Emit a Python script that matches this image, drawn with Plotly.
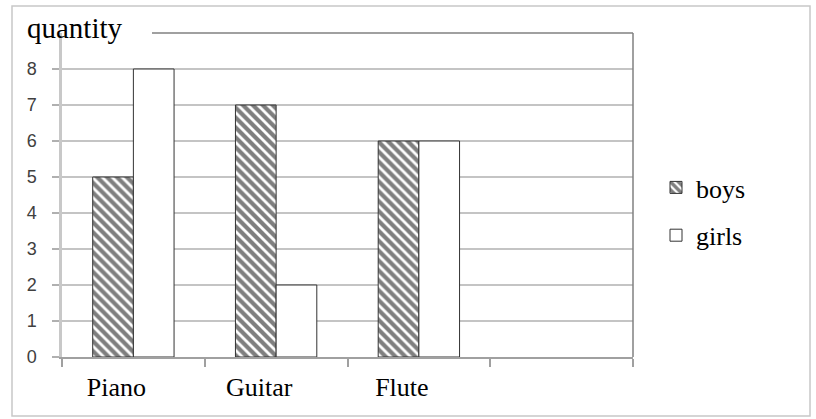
import plotly.graph_objects as go

categories = ["Piano", "Guitar", "Flute", " "]
boys = [5, 7, 6, None]
girls = [8, 2, 6, None]
y_ticks = [0, 1, 2, 3, 4, 5, 6, 7, 8]

W, H = 816, 419
L, R, T, B = 62, 633, 33, 357

def px_x(x):
    return (x - L) / (R - L)

def px_y(y):
    return (B - y) / (B - T)

serif = "Liberation Serif, Times New Roman, serif"
sans = "Liberation Sans, Arial, sans-serif"

fig = go.Figure()
fig.add_trace(go.Bar(
    x=categories, y=boys, name="boys", legendgroup="b",
    marker=dict(color="white", line=dict(color="#333333", width=1),
                pattern=dict(shape="\\", size=7, solidity=0.6, fgcolor="black", bgcolor="white")),
))
fig.add_trace(go.Bar(
    x=categories, y=girls, name="girls", legendgroup="g",
    marker=dict(color="white", line=dict(color="#333333", width=1)),
))

shapes = [
    dict(type="rect", xref="paper", yref="paper", x0=px_x(12), x1=px_x(810), y0=px_y(416), y1=px_y(6),
         line=dict(color="#c8c8c8", width=1.5), layer="below"),
    dict(type="line", xref="paper", yref="paper", x0=px_x(152), x1=1, y0=1, y1=1,
         line=dict(color="#808080", width=1.5)),
    dict(type="line", xref="paper", yref="paper", x0=1, x1=1, y0=0, y1=1,
         line=dict(color="#808080", width=1.5)),
]

fig.update_layout(
    width=W, height=H,
    margin=dict(l=L, r=W - R, t=T, b=H - B, autoexpand=False),
    paper_bgcolor="white", plot_bgcolor="white",
    barmode="group", bargap=0.43, bargroupgap=0,
    showlegend=True,
    legend=dict(x=px_x(656), y=px_y(164), xanchor="left", yanchor="top",
                font=dict(family=serif, size=26, color="black"),
                tracegroupgap=11, bgcolor="rgba(0,0,0,0)"),
    shapes=shapes,
    annotations=[dict(text="quantity", xref="paper", yref="paper", x=px_x(25), y=px_y(28),
                      xanchor="left", yanchor="middle", showarrow=False,
                      font=dict(family=serif, size=29, color="black"))],
    xaxis=dict(type="category", categoryorder="array", categoryarray=categories,
               tickson="boundaries", ticks="outside", ticklen=8, tickcolor="#a0a0a0", tickwidth=1.5,
               showgrid=False, showline=True, linecolor="#a0a0a0", linewidth=1.5,
               tickfont=dict(family=serif, size=26, color="black"), ticklabelshift=-17,
               ticklabelstandoff=6, range=[-0.5, 3.5]),
    yaxis=dict(range=[0, 9], tickvals=y_ticks, ticks="outside", ticklen=7, tickcolor="#b0b0b0",
               tickwidth=1.5, showgrid=True, gridcolor="#c4c4c4", gridwidth=1.5,
               showline=True, linecolor="#c8c8c8", linewidth=2.5, zeroline=False,
               tickfont=dict(family=sans, size=18, color="#404040"), ticklabelstandoff=12),
)

fig.write_html("out.html", config={"displayModeBar": False},
               post_script="document.body.style.margin='0';document.body.style.padding='0';")
